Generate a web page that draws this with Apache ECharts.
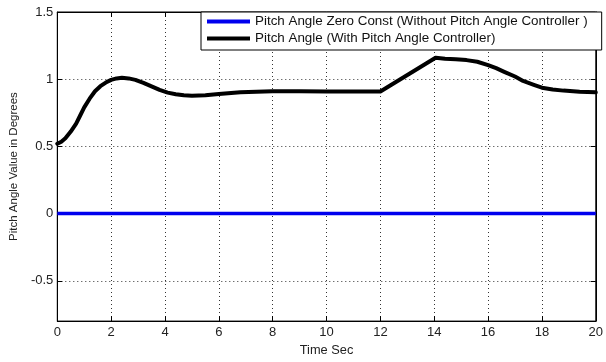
<!DOCTYPE html>
<html><head><meta charset="utf-8">
<script src="https://cdn.jsdelivr.net/npm/echarts@6/dist/echarts.min.js"></script>
<style>html,body{margin:0;padding:0;background:#fff}#c{width:606px;height:362px}</style>
</head><body><div id="c"></div>
<script>
const timeSec = [0,0.15,0.3,0.5,0.7,0.85,1.0,1.2,1.4,1.6,1.8,2.0,2.2,2.4,2.65,2.9,3.2,3.5,3.8,4.1,4.4,4.7,5.0,5.5,6.0,6.8,8.0,9.0,10,11,12.0,14.05,14.4,14.8,15.2,15.6,16.0,16.3,16.6,17.0,17.3,17.7,18.0,18.4,18.8,19.4,20];
const pitchWith = [0.52,0.535,0.56,0.61,0.67,0.73,0.79,0.855,0.91,0.948,0.975,0.995,1.006,1.01,1.006,0.995,0.972,0.946,0.92,0.90,0.888,0.88,0.877,0.88,0.89,0.903,0.91,0.91,0.908,0.908,0.908,1.16,1.152,1.148,1.142,1.13,1.105,1.082,1.055,1.02,0.987,0.958,0.937,0.923,0.915,0.907,0.902];
const zeroTime = [0,20];
const zeroVals = [0,0];
const xTicks = [0,2,4,6,8,10,12,14,16,18,20];
const yTicks = [-0.5,0,0.5,1,1.5];
const names = ['Pitch Angle Zero Const (Without Pitch Angle Controller )','Pitch Angle (With Pitch Angle Controller)'];

const font = 'Liberation Sans, Arial, sans-serif';
const chart = echarts.init(document.getElementById('c'), null, {renderer:'canvas'});
const dotted = {show:true, lineStyle:{color:'#333', width:1, type:[1,3]}};
chart.setOption({
  animation:false,
  backgroundColor:'#fff',
  grid:{left:55, right:7, top:12, bottom:35, show:true, borderColor:'#000', borderWidth:1, backgroundColor:'#fff'},
  legend:{
    left:201, top:12, orient:'vertical',
    backgroundColor:'#fff', borderColor:'#000', borderWidth:1,
    padding:[2,14,4,6], itemGap:2, itemWidth:43, itemHeight:4, icon:'rect',
    textStyle:{fontFamily:font, fontSize:13.4, color:'#111', lineHeight:15},
    data:names
  },
  xAxis:[{
    type:'value', min:0, max:20, interval:2, position:'bottom',
    name:'Time Sec', nameLocation:'middle', nameGap:21,
    nameTextStyle:{fontFamily:font, fontSize:12.8, color:'#222'},
    axisLine:{show:true, onZero:false, lineStyle:{color:'#000'}},
    axisTick:{show:true, inside:true, length:5, lineStyle:{color:'#000'}},
    axisLabel:{fontFamily:font, fontSize:13, color:'#222', margin:5},
    splitLine:dotted
  },{
    type:'value', min:0, max:20, interval:2, position:'top',
    axisLine:{show:true, onZero:false, lineStyle:{color:'#000'}},
    axisTick:{show:true, inside:true, length:5, lineStyle:{color:'#000'}},
    axisLabel:{show:false}, splitLine:{show:false}
  }],
  yAxis:[{
    type:'value', min:-0.8, max:1.5, position:'left',
    name:'Pitch Angle Value in Degrees', nameLocation:'middle', nameGap:34, nameRotate:90,
    nameTextStyle:{fontFamily:font, fontSize:11.5, color:'#222'},
    axisLine:{show:true, onZero:false, lineStyle:{color:'#000'}},
    axisTick:{show:true, inside:true, length:5, customValues:yTicks, lineStyle:{color:'#000'}},
    axisLabel:{fontFamily:font, fontSize:13, color:'#222', margin:4, customValues:yTicks,
      formatter:v=>String(Math.round(v*10)/10)},
    splitLine:{show:true, lineStyle:{color:'#333', width:1, type:[1,3]}}
  },{
    type:'value', min:-0.8, max:1.5, position:'right',
    axisLine:{show:true, onZero:false, lineStyle:{color:'#000'}},
    axisTick:{show:true, inside:true, length:5, customValues:yTicks, lineStyle:{color:'#000'}},
    axisLabel:{show:false, customValues:yTicks}, splitLine:{show:false}
  }],
  series:[{
    name:names[0], type:'line', symbol:'none', xAxisIndex:0, yAxisIndex:0,
    lineStyle:{color:'#0000ee', width:3.5}, itemStyle:{color:'#0000ee'},
    data: zeroTime.map((t,i)=>[t, zeroVals[i]])
  },{
    name:names[1], type:'line', symbol:'none', xAxisIndex:0, yAxisIndex:0, smooth:false,
    lineStyle:{color:'#000', width:4, join:'round', cap:'round'}, itemStyle:{color:'#000'},
    data: timeSec.map((t,i)=>[t, pitchWith[i]])
  }]
});
</script></body></html>
